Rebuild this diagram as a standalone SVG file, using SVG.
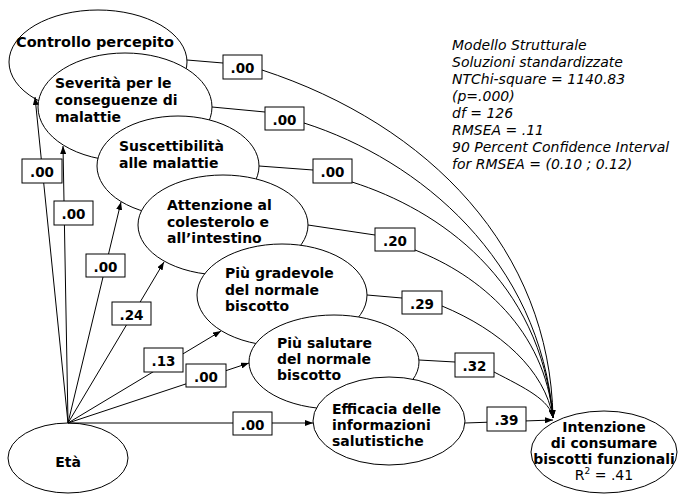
<svg xmlns="http://www.w3.org/2000/svg" width="678" height="494" viewBox="0 0 678 494">
<defs>
<style>
.n ellipse{fill:#fff;stroke:#000;stroke-width:1}
.n text{font-family:"DejaVu Sans",Verdana,sans-serif;font-weight:bold;font-size:14px;fill:#000}
.n text.big{font-size:14.5px}
.n text.reg{font-weight:normal}
.c path{fill:none;stroke:#000;stroke-width:1;marker-end:url(#ah)}
.c rect{fill:#fff;stroke:#000;stroke-width:1}
.c text{font-family:"DejaVu Sans",Verdana,sans-serif;font-weight:bold;font-size:13.5px;text-anchor:middle;fill:#000}
.info text{font-family:"DejaVu Sans",Verdana,sans-serif;font-style:italic;font-size:14px;fill:#000}
</style>
<marker id="ah" viewBox="0 0 8 6" refX="8" refY="3" markerWidth="8" markerHeight="6" orient="auto" markerUnits="userSpaceOnUse"><path d="M0,0 L8,3 L0,6 z" fill="#000"/></marker>
</defs>
<rect width="678" height="494" fill="#fff"/>
<g class="n">
<g id="controllo"><ellipse cx="98" cy="62" rx="89" ry="52"/><text class="big" x="16" y="47">Controllo percepito</text></g>
<g id="severita"><ellipse cx="125" cy="107" rx="87" ry="54"/><text x="55" y="88">Severità per le</text><text x="55" y="105">conseguenze di</text><text x="55" y="122">malattie</text></g>
<g id="suscettibilita"><ellipse cx="178" cy="166" rx="81" ry="50"/><text x="119" y="151">Suscettibilità</text><text x="119" y="168">alle malattie</text></g>
<g id="attenzione"><ellipse cx="223" cy="225" rx="85" ry="50"/><text x="167" y="210">Attenzione al</text><text x="167" y="226.5">colesterolo e</text><text x="167" y="243">all’intestino</text></g>
<g id="gradevole"><ellipse cx="282" cy="295" rx="85" ry="51"/><text x="225" y="278">Più gradevole</text><text x="225" y="294.5">del normale</text><text x="225" y="311">biscotto</text></g>
<g id="salutare"><ellipse cx="334" cy="362" rx="85" ry="47"/><text x="277" y="347.5">Più salutare</text><text x="277" y="364">del normale</text><text x="277" y="380">biscotto</text></g>
<g id="efficacia"><ellipse cx="389" cy="421" rx="76" ry="44"/><text x="332" y="413.5">Efficacia delle</text><text x="332" y="429.5">informazioni</text><text x="332" y="445.5">salutistiche</text></g>
<g id="intenzione"><ellipse cx="604" cy="452" rx="73" ry="41"/><text x="604" y="432" text-anchor="middle">Intenzione</text><text x="604" y="448" text-anchor="middle">di consumare</text><text x="604" y="464" text-anchor="middle">biscotti funzionali</text><text class="reg" x="604" y="480" text-anchor="middle">R<tspan font-size="9" dy="-6">2</tspan><tspan dy="6"> = .41</tspan></text></g>
<g id="eta"><ellipse cx="68" cy="458" rx="60" ry="35"/><text x="68" y="467" text-anchor="middle">Età</text></g>
</g>
<g id="connectors" class="c">
<path d="M68,423 L35,97"/>
<path d="M68,423 L63,146"/>
<path d="M68,423 L121,202"/>
<path d="M68,423 L164,262"/>
<path d="M68,423 L221,331"/>
<path d="M68,423 L249,363"/>
<path d="M68,423 L313,423"/>
<path d="M187,60 L223,63 L262,70 C430,125 550,250 553,418"/>
<path d="M212,107 L265,112 L304,123 C420,160 540,260 553,418"/>
<path d="M259,166 L313,170 L352,182 C440,210 540,280 553,418"/>
<path d="M308,225 L375,235 L415,250 C480,275 545,330 553,418"/>
<path d="M367,295 L402,298 L442,306 C500,330 545,370 553,418"/>
<path d="M419,360 L455,362 L494,372 C525,388 550,400 553,418"/>
<path d="M465,423 L553,420"/>
<rect x="22" y="159" width="40" height="24"/><text x="42" y="177">.00</text>
<rect x="54" y="201" width="39" height="24"/><text x="73.5" y="219">.00</text>
<rect x="86" y="254" width="39" height="23"/><text x="105.5" y="271.5">.00</text>
<rect x="112" y="302" width="39" height="23"/><text x="131.5" y="319.5">.24</text>
<rect x="144" y="348" width="39" height="24"/><text x="163.5" y="366">.13</text>
<rect x="186" y="364" width="40" height="23"/><text x="206" y="381.5">.00</text>
<rect x="233" y="412" width="39" height="23"/><text x="252.5" y="429.5">.00</text>
<rect x="223" y="55" width="39" height="24"/><text x="242.5" y="73">.00</text>
<rect x="265" y="107" width="39" height="23"/><text x="284.5" y="124.5">.00</text>
<rect x="313" y="159" width="39" height="24"/><text x="332.5" y="177">.00</text>
<rect x="375" y="228" width="40" height="23"/><text x="395" y="245.5">.20</text>
<rect x="402" y="291" width="40" height="23"/><text x="422" y="308.5">.29</text>
<rect x="455" y="353" width="39" height="24"/><text x="474.5" y="371">.32</text>
<rect x="487" y="407" width="39" height="24"/><text x="506.5" y="425">.39</text>
</g>
<g class="info">
<text x="452" y="50">Modello Strutturale</text>
<text x="452" y="67">Soluzioni standardizzate</text>
<text x="452" y="84">NTChi-square = 1140.83</text>
<text x="452" y="101">(p=.000)</text>
<text x="452" y="118">df = 126</text>
<text x="452" y="135">RMSEA = .11</text>
<text x="452" y="152">90 Percent Confidence Interval</text>
<text x="452" y="169">for RMSEA = (0.10 ; 0.12)</text>
</g>
</svg>
